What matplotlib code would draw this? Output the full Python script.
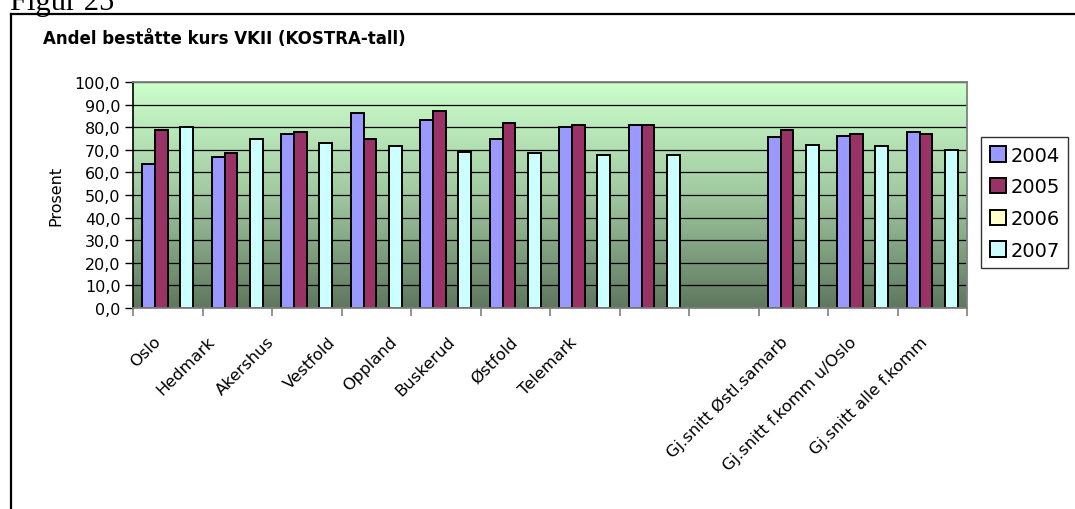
import numpy as np
import matplotlib
matplotlib.use("Agg")
import matplotlib.pyplot as plt
from matplotlib.colors import LinearSegmentedColormap
from matplotlib.lines import Line2D
from matplotlib.transforms import blended_transform_factory, offset_copy

# ---------------- data ----------------
categories = ["Oslo", "Hedmark", "Akershus", "Vestfold", "Oppland", "Buskerud",
              "Østfold", "Telemark", "", "Gj.snitt Østl.samarb",
              "Gj.snitt f.komm u/Oslo", "Gj.snitt alle f.komm"]
years = ["2004", "2005", "2006", "2007"]
v2004 = [63.6, 66.8, 76.8, 86.3, 83.1, 74.6, 80.1, 80.9, np.nan, 75.5, 76.2, 77.8]
v2005 = [78.6, 68.4, 77.8, 74.6, 87.0, 81.7, 80.9, 80.9, np.nan, 78.6, 77.0, 77.0]
v2006 = [np.nan] * 12
v2007 = [80.0, 74.6, 73.2, 71.6, 69.0, 68.4, 67.5, 67.5, np.nan, 72.3, 71.6, 70.0]
series = [v2004, v2005, v2006, v2007]
colors = ["#9999FF", "#993366", "#FFFFCC", "#CCFFFF"]
yticks = np.arange(0, 101, 10)
ytick_labels = [f"{t:.1f}".replace(".", ",") for t in yticks]

# label anchor positions (layout, category units) for the rotated labels
label_x = [-0.09, 0.69, 1.55, 2.42, 3.31, 4.14, 5.05, 5.90, 8.0, 8.93, 9.93, 10.95]

# ---------------- figure ----------------
W, H = 1075, 510
fig = plt.figure(figsize=(W / 100, H / 100), dpi=100)
fig.patch.set_facecolor("white")

ax = fig.add_axes([133 / W, 1 - 309 / H, (967 - 133) / W, (309 - 83) / H])
n = len(categories)
x = np.arange(n)
ax.set_xlim(-0.5, n - 0.5)
ax.set_ylim(0, 100)

# gradient background
cmap = LinearSegmentedColormap.from_list("bg", ["#5E775E", "#A0C8A0", "#CCFFCC"])
grad = np.linspace(0, 1, 256).reshape(-1, 1)
ax.imshow(grad, cmap=cmap, aspect="auto", origin="lower",
          extent=[-0.5, n - 0.5, 0, 100], zorder=0)

ax.set_axisbelow(True)
ax.grid(axis="y", color="black", linewidth=0.9, zorder=0.5)

w = 1 / 5.5
offsets = [-1.5 * w, -0.5 * w, 0.5 * w, 1.5 * w]
for vals, c, off, lab in zip(series, colors, offsets, years):
    ax.bar(x + off, vals, width=w, color=c, edgecolor="black",
           linewidth=1.4, label=lab, zorder=2)

# axes styling
ax.set_yticks(yticks)
ax.set_yticklabels(ytick_labels, fontsize=11.5, family="DejaVu Sans")
ax.tick_params(axis="y", direction="out", length=6, width=1, color="black", pad=3)
ax.set_xticks(np.arange(-0.5, n, 1.0))
ax.set_xticklabels([])
ax.tick_params(axis="x", direction="out", length=6, width=1.2, color="#808080")
for s in ["top", "right", "bottom"]:
    ax.spines[s].set_color("#808080")
    ax.spines[s].set_linewidth(1.3)
ax.spines["left"].set_color("black")
ax.spines["left"].set_linewidth(1.2)

ax.set_ylabel("Prosent", fontsize=11.5, family="DejaVu Sans", labelpad=8)

# rotated category labels
trans = blended_transform_factory(ax.transData, ax.transAxes)
trans = offset_copy(trans, fig=fig, x=0, y=-24.5, units="points")
for lx, lab in zip(label_x, categories):
    ax.text(lx, 0, lab, transform=trans, rotation=45, rotation_mode="anchor",
            ha="right", va="baseline", fontsize=11.8, family="DejaVu Sans")

# legend
leg = fig.legend(loc="upper left", bbox_to_anchor=(981 / W, 1 - 138 / H),
                 prop={"family": "DejaVu Sans", "size": 14}, frameon=True,
                 fancybox=False, edgecolor="black", handlelength=0.85,
                 handleheight=0.85, handletextpad=0.2, labelspacing=0.65,
                 borderpad=0.45, borderaxespad=0)
leg.get_frame().set_linewidth(1.0)

# title
fig.text(43 / W, 1 - 44 / H, "Andel beståtte kurs VKII (KOSTRA-tall)",
         fontsize=12, fontweight="bold", family="DejaVu Sans", va="baseline", ha="left")

# outer frame (left and top lines only visible)
fig.add_artist(Line2D([11 / W, 11 / W], [0, 1 - 15 / H], transform=fig.transFigure,
                      color="black", linewidth=1.6))
fig.add_artist(Line2D([11 / W, 1], [1 - 15 / H, 1 - 15 / H], transform=fig.transFigure,
                      color="black", linewidth=1.6))

# caption cut off at the top
fig.text(10 / W, 1 - 10 / H, "Figur 25", fontsize=22, family="Liberation Serif",
         va="baseline", ha="left")

fig.savefig("out.png", dpi=100)
